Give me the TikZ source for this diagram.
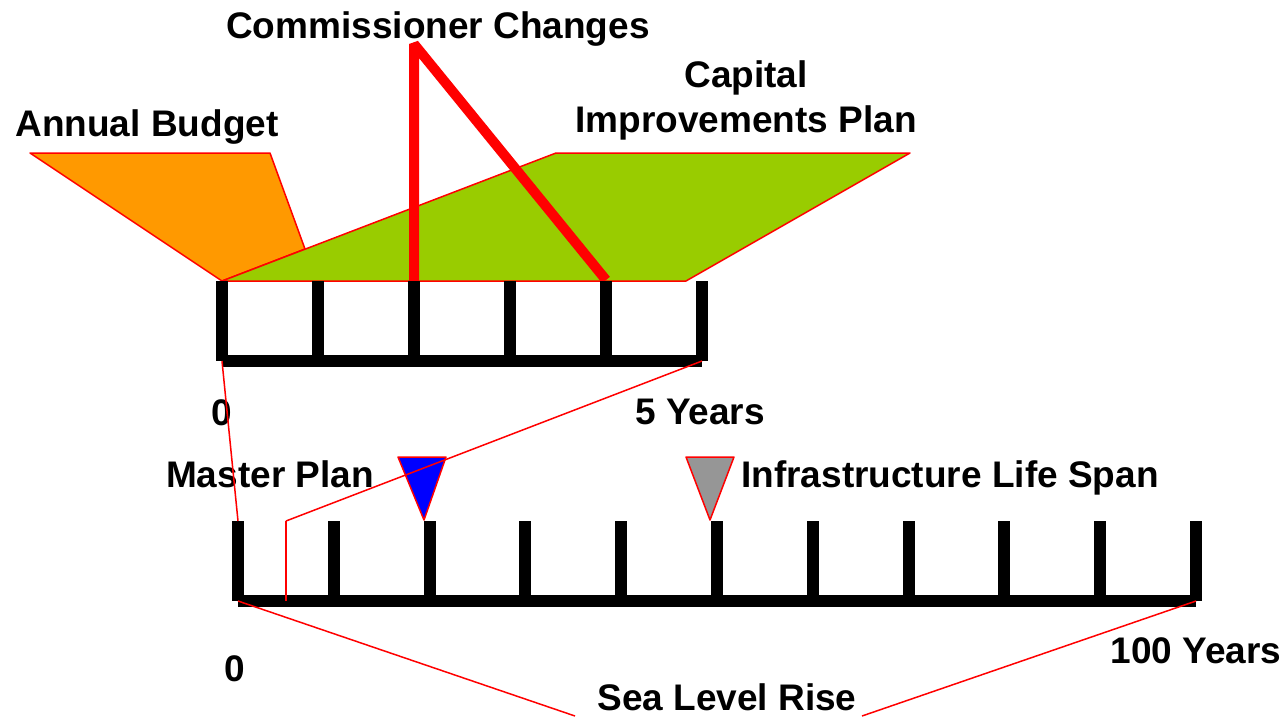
\documentclass[tikz,border=0pt]{standalone}
\usepackage{fontspec}
\setmainfont{Liberation Sans}
\usetikzlibrary{positioning}
\definecolor{budget}{HTML}{FF9900}
\definecolor{capital}{HTML}{99CC00}
\definecolor{lifespan}{HTML}{969696}

\begin{document}
\begin{tikzpicture}[x=1pt,y=-1pt,
    lbl/.style={font=\fontsize{37}{45}\selectfont\bfseries,inner sep=0pt,align=center},
    bar/.style={line width=12pt},
    area/.style={draw=red,line width=1.5pt,line join=round}]
  \useasboundingbox (0,0) rectangle (1287,716);

  % budget and capital plan
  \filldraw[area,fill=budget]  (30,153) -- (270,153) -- (305,249) -- (222,281) -- cycle;
  \filldraw[area,fill=capital] (222,281) -- (556,153) -- (910,153) -- (686,281) -- cycle;
  \draw[red,line width=10pt,line join=bevel] (414,281) -- (414,44) -- (606,280);

  % 5 year scale
  \foreach \i in {0,...,5}
    \draw[bar] (222+96*\i,281) -- (222+96*\i,361);
  \draw[bar] (222,361) -- (702,361);
  \coordinate (s0) at (222,361);
  \coordinate (s5) at (702,361);

  % 100 year scale
  \foreach \i in {0,...,10}
    \draw[bar] (238+95.8*\i,521) -- (238+95.8*\i,601);
  \draw[bar] (238,601) -- (1196,601);
  \coordinate (l0) at (238,521);
  \coordinate (lb) at (238,601);
  \coordinate (l10) at (1196,601);
  \coordinate (m5) at (286,521);
  \coordinate (m5b) at (286,601);
  \coordinate (sl) at (575,716);
  \coordinate (sr) at (862,716);

  % markers
  \filldraw[area,fill=blue]     (398,457) -- (446,457) -- (424,520) -- cycle;
  \filldraw[area,fill=lifespan] (686,457) -- (734,457) -- (710,520) -- cycle;

  \node[lbl,anchor=base] (cc)  at (438,38)  {Commissioner Changes};
  \node[lbl,anchor=base] (ab)  at (147,136) {Annual Budget};
  \node[lbl]             (cip) at (746,100) {Capital\\Improvements Plan};
  \node[lbl,anchor=base] (z5)  at (222,425) {0};
  \node[lbl,anchor=base] (y5)  at (700,424) {5 Years};
  \node[lbl,anchor=base] (mp)  at (270,487) {Master Plan};
  \node[lbl,anchor=base] (ils) at (950,487) {Infrastructure Life Span};
  \node[lbl,anchor=base] (z100) at (235,681) {0};
  \node[lbl,anchor=base] (y100) at (1196,663) {100 Years};
  \node[lbl,anchor=base] (slr) at (727,710) {Sea Level Rise};

  \tikzset{link/.style={-,draw=red,line width=1.5pt}}
  \path (s0)  edge [link] (l0)
        (s5)  edge [link] (m5)
        (m5)  edge [link] (m5b)
        (lb)  edge [link] (sl)
        (l10) edge [link] (sr);
\end{tikzpicture}
\end{document}
